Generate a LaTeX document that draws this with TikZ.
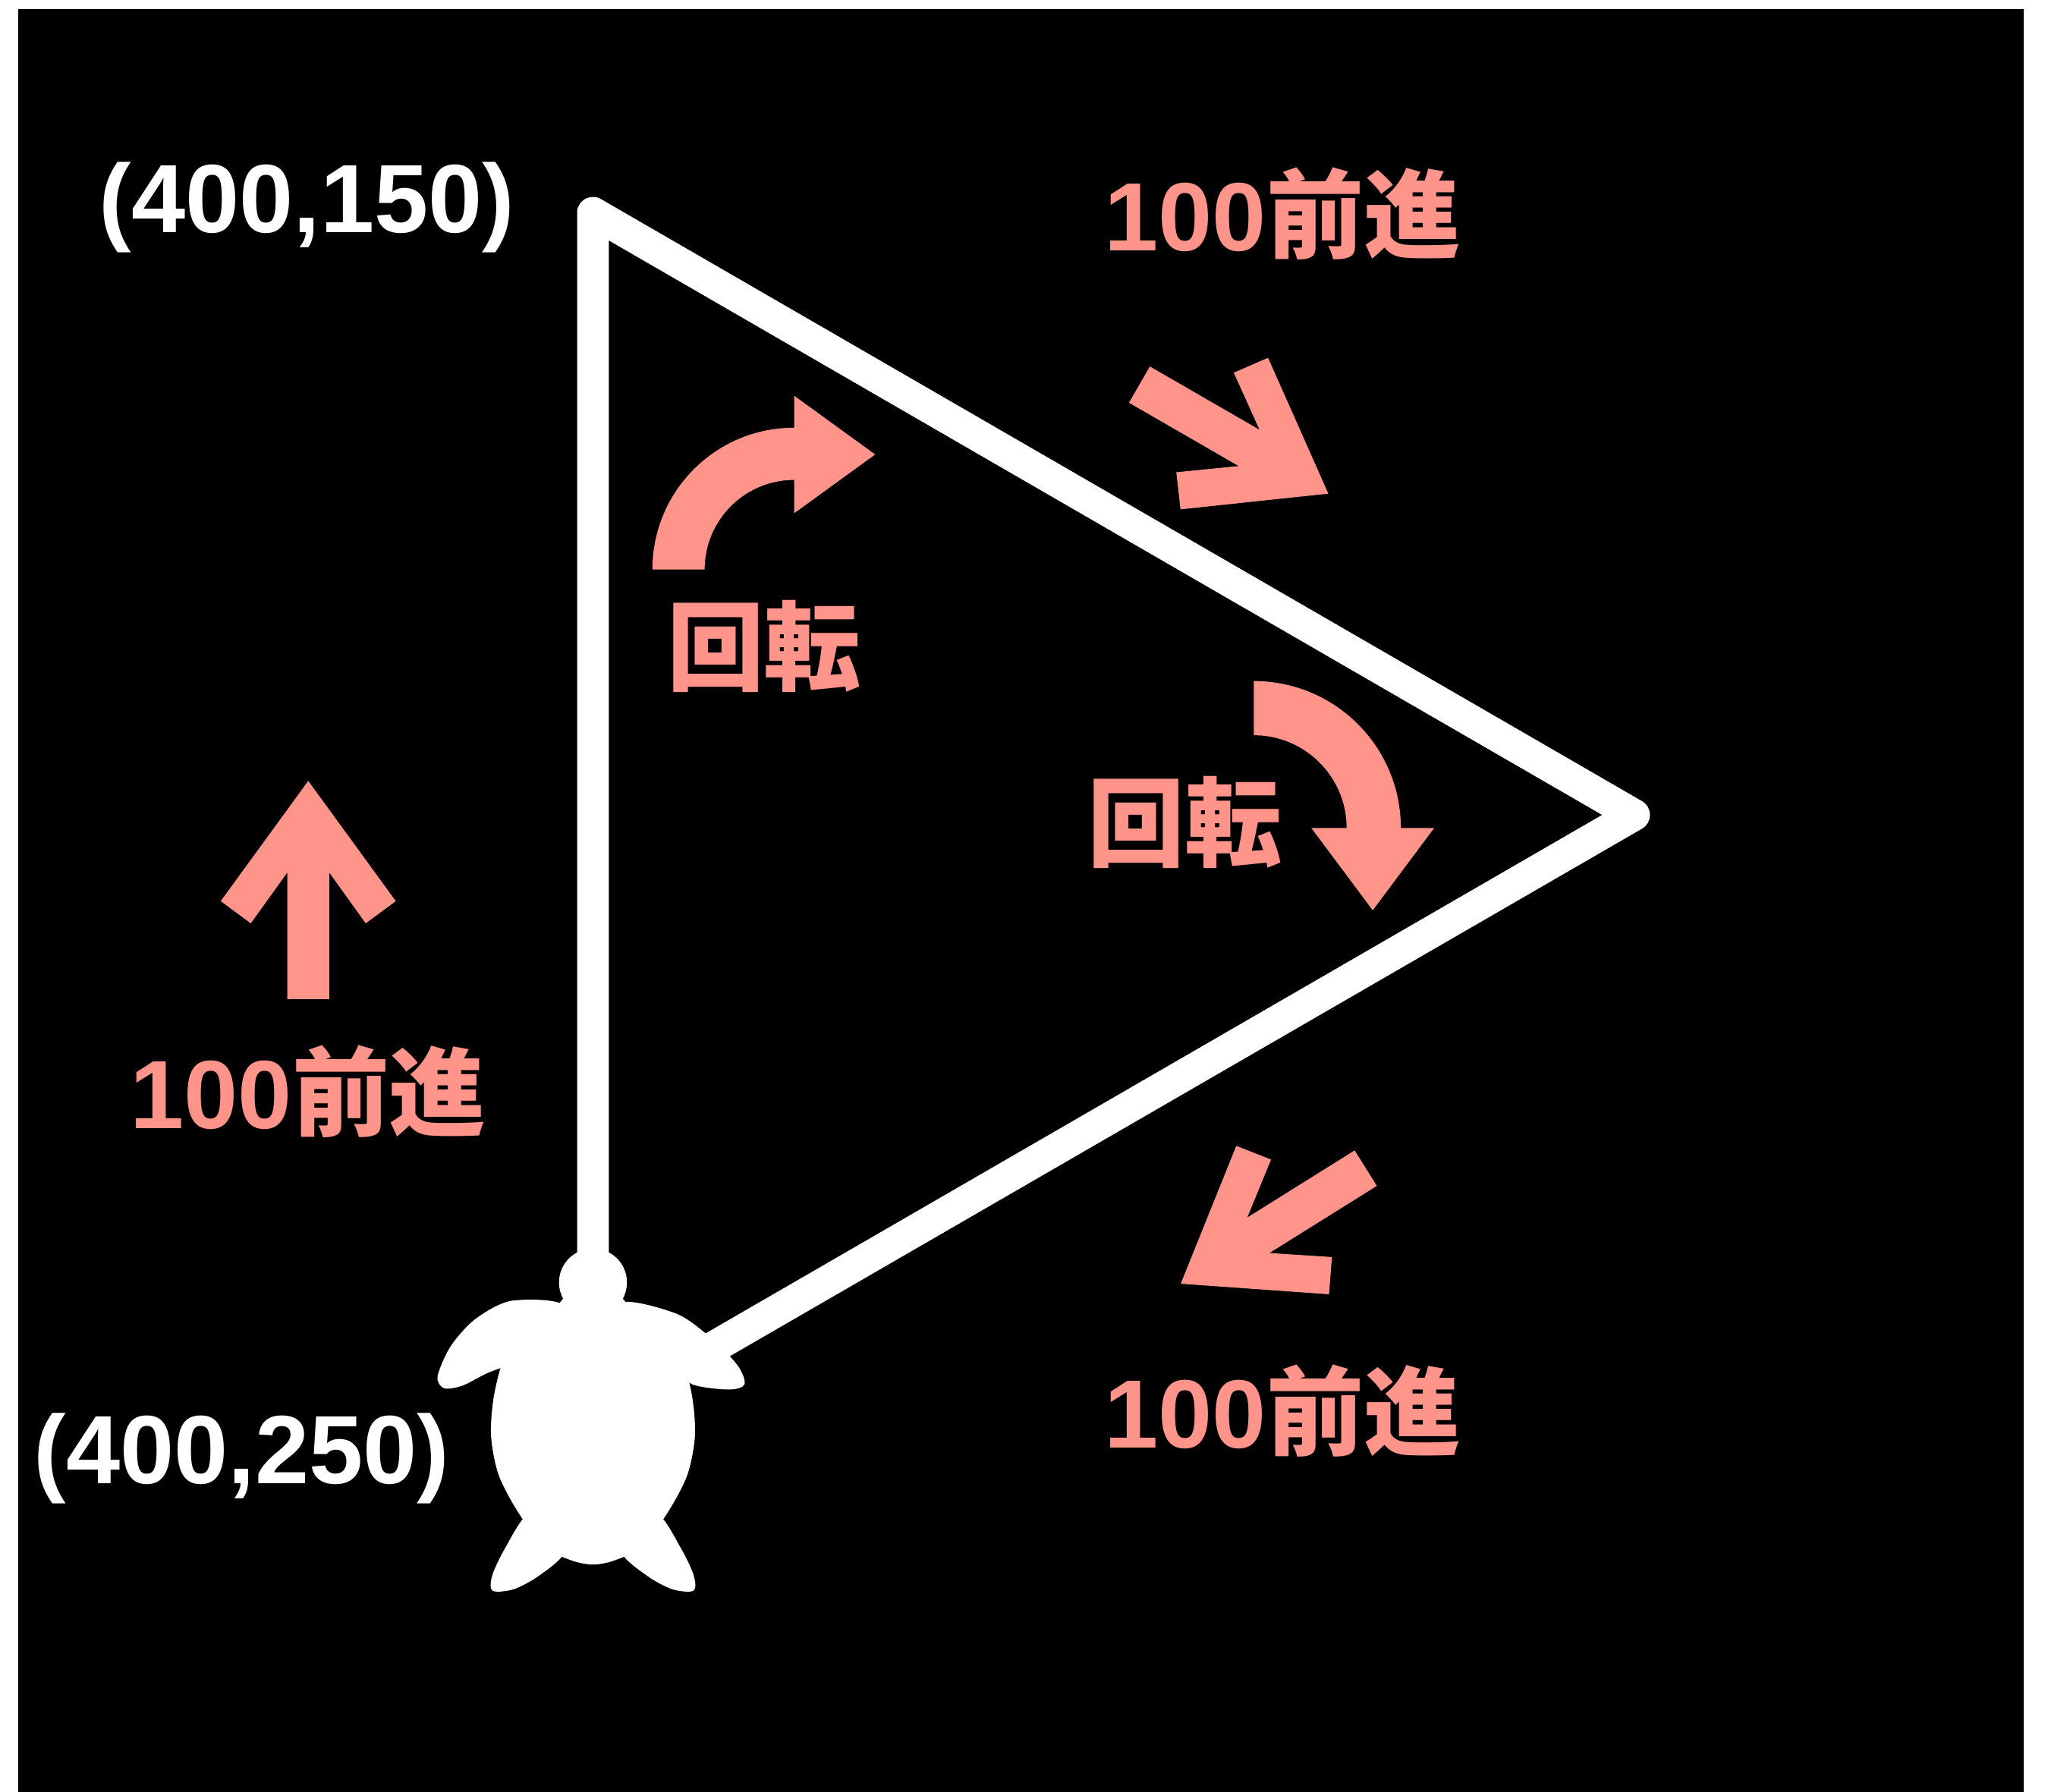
\documentclass[tikz,border=0pt]{standalone}
\usepackage{fontspec}
\setmainfont{Liberation Sans}
\newfontfamily\cjk{Noto Sans CJK JP}
\definecolor{salmon}{RGB}{255,148,138}

\begin{document}
\begin{tikzpicture}[x=0.0173cm, y=-0.0173cm,
		coord/.style={text=white, font=\fontsize{36.6}{40}\selectfont\bfseries, inner sep=0pt, anchor=base},
		move/.style={text=salmon, font=\fontsize{36.6}{40}\selectfont\bfseries, inner sep=0pt, anchor=base},
		trail/.style={draw=white, line width=12pt, line join=round},
		fwd/.pic={\fill[salmon] (0,0) -- (-92,67) -- (-109,44) -- (-70,16) -- (-167,16) -- (-167,-16) -- (-70,-16) -- (-109,-44) -- (-92,-67) -- cycle;}]

		\useasboundingbox (0,0) rectangle (1568,1372);
		\fill[black] (14,7) rectangle (1549.5,1372);

		% path of the turtle
		\coordinate (start) at (454,1085);
		\coordinate (top) at (454,163);
		\coordinate (corner) at (1251,624);
		\draw[trail] (start) -- (top) -- (corner) -- cycle;

		% turtle
		\fill[white] (454,982) ellipse [x radius=26, y radius=26];
		\fill[white] plot[smooth cycle] coordinates {(454,985) (474,992) (482,1004) (470,1012) (438,1012) (426,1004) (434,992)};
		\fill[white] plot[smooth cycle] coordinates {(454,1000) (481,1002) (505,1015) (522,1040) (530,1070) (532,1100) (526,1130) (510,1160) (490,1185) (470,1195) (454,1198) (438,1195) (418,1185) (398,1160) (382,1130) (376,1100) (378,1070) (386,1040) (403,1015) (428,1002)};
		\fill[white] plot[smooth cycle] coordinates {(432,1000) (392,996) (364,1010) (345,1031) (335,1054) (340,1063) (354,1061) (374,1051) (394,1044) (420,1036)};
		\fill[white] plot[smooth cycle] coordinates {(476,998) (518,1006) (546,1026) (565,1046) (570,1060) (558,1064) (530,1060) (516,1046) (490,1036)};
		\fill[white] plot[smooth cycle] coordinates {(404,1160) (387,1185) (377,1206) (377,1218) (393,1217) (412,1207) (432,1189) (425,1168)};
		\fill[white] plot[smooth cycle] coordinates {(504,1160) (521,1185) (531,1206) (531,1218) (515,1217) (496,1207) (476,1189) (483,1168)};

		% positions
		\node[coord] (p150) at (235,178) {(400,150)};
		\node[coord] (p250) at (185,1136) {(400,250)};

		% forward moves
		\pic[rotate=90] at (236,598) {fwd};
		\pic[rotate=-30] at (1017,378) {fwd};
		\pic[rotate=212] at (904,983) {fwd};
		\node[move] (f1) at (236,864) {100{\cjk 前進}};
		\node[move] (f2) at (982,192) {100{\cjk 前進}};
		\node[move] (f3) at (982,1109) {100{\cjk 前進}};

		% turns
		\fill[salmon] (499.5,436) arc[start angle=180, end angle=270, radius=108.5] -- (608,303) -- (670,348) -- (608,393) -- (608,367.5) arc[start angle=270, end angle=180, radius=68.5] -- cycle;
		\fill[salmon] (960,521.5) arc[start angle=-90, end angle=0, radius=112.5] -- (1098,634) -- (1051,697) -- (1004,634) -- (1031,634) arc[start angle=0, end angle=-90, radius=71] -- cycle;
		\node[move] (t1) at (585,523) {\cjk 回転};
		\node[move] (t2) at (907,658) {\cjk 回転};

\end{tikzpicture}
\end{document}
